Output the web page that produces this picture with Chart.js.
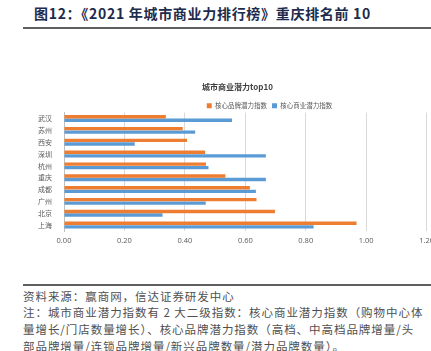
<!DOCTYPE html>
<html>
<head>
<meta charset="utf-8">
<script src="https://cdn.jsdelivr.net/npm/chart.js@4"></script>
<style>
  html, body { margin: 0; padding: 0; background: #fff; overflow: hidden; width: 431px; height: 351px; }
  body { position: relative; font-family: "Noto Sans CJK SC", "Noto Sans", sans-serif; }
  .head { position: absolute; left: 34px; top: 3px; font-size: 14px; font-weight: 700; color: #1d2b4c; white-space: pre; letter-spacing: 0.7px; }
  .rule { position: absolute; left: 23px; width: 408px; background: #5f5f5f; }
  .note { position: absolute; left: 23px; font-size: 11.5px; letter-spacing: 0.95px; color: #505050; white-space: pre; line-height: 16.7px; }
  #box { position: absolute; left: 0; top: 70px; width: 475px; height: 186px; }
</style>
</head>
<body>
<div class="head">图12：《2021 年城市商业力排行榜》重庆排名前 10</div>
<div class="rule" style="top:27px;height:2px"></div>
<div id="box"><canvas id="chart"></canvas></div>
<div class="rule" style="top:284px;height:2px"></div>
<div class="note" style="top:287.5px">资料来源：赢商网，信达证券研发中心
注：城市商业潜力指数有 2 大二级指数：核心商业潜力指数（购物中心体
量增长/门店数量增长）、核心品牌潜力指数（高档、中高档品牌增量/头
部品牌增量/连锁品牌增量/新兴品牌数量/潜力品牌数量）。</div>
<script>
const cities = ['武汉', '苏州', '西安', '深圳', '杭州', '重庆', '成都', '广州', '北京', '上海'];
const brandIndex = [0.337, 0.393, 0.407, 0.467, 0.470, 0.534, 0.615, 0.637, 0.698, 0.968];
const commerceIndex = [0.556, 0.434, 0.234, 0.668, 0.478, 0.668, 0.635, 0.469, 0.326, 0.826];
const seriesNames = ['核心品牌潜力指数', '核心商业潜力指数'];
const xTickMax = 1.2;

const labelColor = '#595959';

new Chart(document.getElementById('chart'), {
  type: 'bar',
  data: {
    labels: cities,
    datasets: [
      { label: seriesNames[0], data: brandIndex, backgroundColor: '#ED7D31' },
      { label: seriesNames[1], data: commerceIndex, backgroundColor: '#5B9BD5' }
    ]
  },
  options: {
    indexAxis: 'y',
    responsive: true, maintainAspectRatio: false, animation: false,
    categoryPercentage: 0.6, barPercentage: 0.95,
    layout: { padding: { top: 8, bottom: 6, left: 0, right: 0 } },
    scales: {
      x: {
        min: 0, max: 1.36,
        afterBuildTicks: s => { s.ticks = s.ticks.filter(t => t.value <= xTickMax + 1e-6); },
        ticks: { stepSize: 0.2, padding: 5, color: labelColor, font: { family: 'Open Sans', size: 7.5 }, callback: v => v.toFixed(2) },
        grid: { color: '#d9d9d9', drawTicks: false },
        border: { display: false }
      },
      y: {
        afterFit: s => { s.width = 64; },
        ticks: { autoSkip: false, padding: 4, color: labelColor, font: { family: 'Noto Sans CJK SC', size: 7 } },
        grid: { display: false },
        border: { color: '#bfbfbf' }
      }
    },
    plugins: {
      title: { display: true, text: '城市商业潜力top10', color: '#404040', font: { family: 'Noto Sans CJK SC', size: 8, weight: 'bold' }, padding: { top: 4, bottom: 6 } },
      legend: {
        fullSize: false, maxHeight: 15,
        labels: { boxWidth: 5, boxHeight: 5, padding: 5, color: labelColor, font: { family: 'Noto Sans CJK SC', size: 6.5 } }
      },
      tooltip: { enabled: false }
    }
  }
});
</script>
</body>
</html>
